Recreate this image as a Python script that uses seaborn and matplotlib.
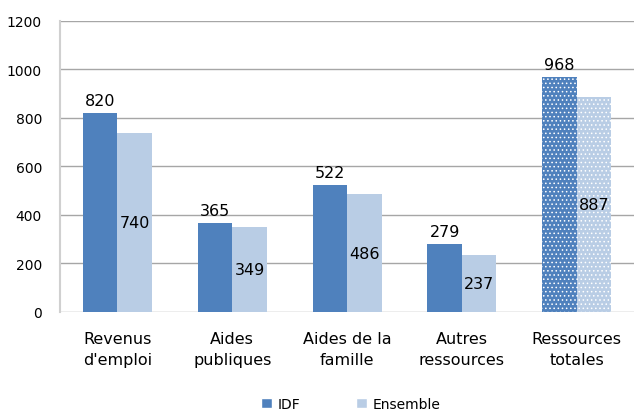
import pandas as pd
import matplotlib
matplotlib.use("Agg")
import matplotlib.pyplot as plt
import seaborn as sns
from matplotlib.patches import Patch

categories = ["Revenus\nd'emploi", "Aides\npubliques", "Aides de la\nfamille",
              "Autres\nressources", "Ressources\ntotales"]
idf = [820, 365, 522, 279, 968]
ensemble = [740, 349, 486, 237, 887]
series = ["IDF", "Ensemble"]
colors = ["#4F81BD", "#B9CDE5"]

df = pd.DataFrame({
    "cat": categories * 2,
    "val": idf + ensemble,
    "serie": ["IDF"] * len(idf) + ["Ensemble"] * len(ensemble),
})

sns.set_style("white")
plt.rcParams["font.family"] = ["DejaVu Sans"]
plt.rcParams["hatch.linewidth"] = 0.6
plt.rcParams["text.color"] = "black"
plt.rcParams["xtick.color"] = "black"
plt.rcParams["ytick.color"] = "black"

fig = plt.figure(figsize=(6.38, 4.14), dpi=100)
ax = fig.add_axes([0.094, 0.244, 0.9, 0.703])

sns.barplot(data=df, x="cat", y="val", hue="serie", palette=colors,
            width=0.6, saturation=1, linewidth=0, ax=ax, legend=False)

# motif pointillé pour la dernière catégorie
for cont in ax.containers:
    b = cont[4]
    b.set_hatch("....")
    b.set_edgecolor("white")
    b.set_linewidth(0)

ax.bar_label(ax.containers[0], padding=4, fontsize=11.5)
ax.bar_label(ax.containers[1], label_type="center", fontsize=11.5)

ax.set_ylim(0, 1200)
ax.set_yticks(range(0, 1201, 200))
ax.set_xlim(-0.5, 4.5)
ax.yaxis.grid(True, color="#A6A6A6", linewidth=1)
ax.set_axisbelow(True)
for s in ["top", "right", "bottom"]:
    ax.spines[s].set_visible(False)
ax.spines["left"].set_color("#D0D0D0")
ax.spines["left"].set_linewidth(1.5)
ax.tick_params(axis="y", length=5, color="#A6A6A6", labelsize=10, pad=8)
ax.tick_params(axis="x", length=0, labelsize=11.5, pad=14)
for t in ax.get_xticklabels():
    t.set_linespacing(1.45)
ax.set_xlabel("")
ax.set_ylabel("")

handles = [Patch(facecolor=c, label=s) for c, s in zip(colors, series)]
fig.legend(handles=handles, loc="lower center", bbox_to_anchor=(0.55, -0.025),
           ncol=2, frameon=False, handlelength=0.8, handleheight=0.8,
           handletextpad=0.4, columnspacing=4, fontsize=10)

fig.savefig("out.png", dpi=100)
